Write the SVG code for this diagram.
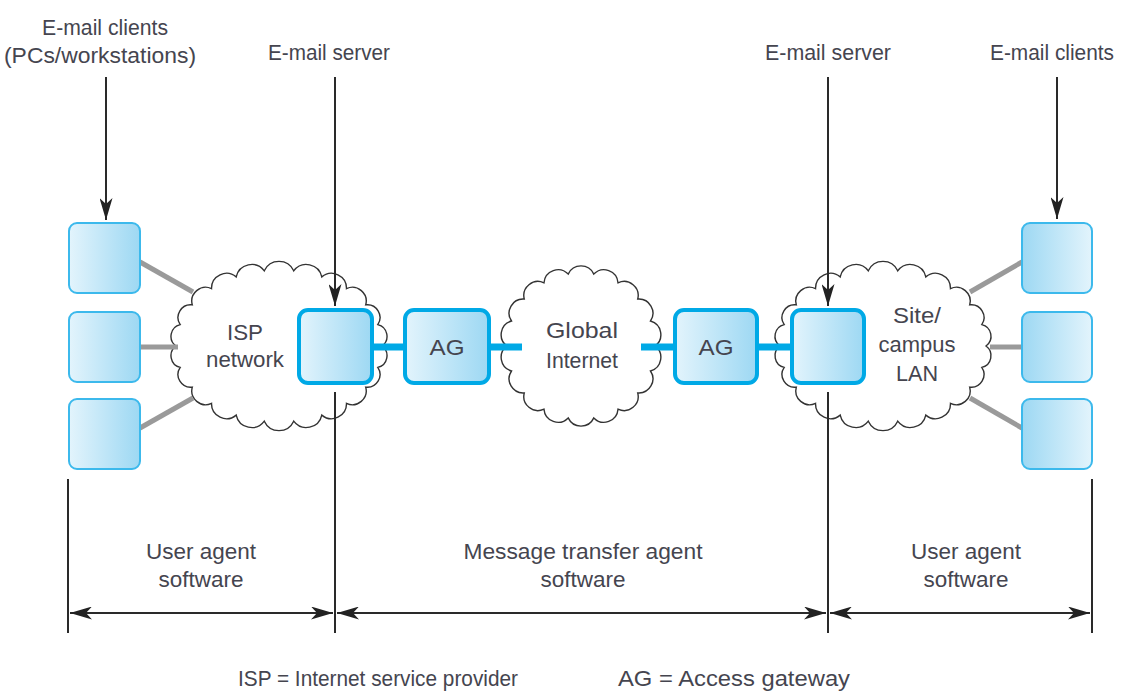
<svg xmlns="http://www.w3.org/2000/svg" xmlns:xlink="http://www.w3.org/1999/xlink" width="1121" height="692" viewBox="0 0 1121 692">
<style>
  text { font-family: "Liberation Sans", Arial, sans-serif; font-size: 22px; fill: #45454f; text-anchor: middle; }
  .cloud { fill: #ffffff; stroke: #333333; stroke-width: 1.4; }
  .client { stroke: #3cb9ec; stroke-width: 2; }
  .server { stroke: #00a9e6; stroke-width: 4; }
  .blue { stroke: #00a9e6; stroke-width: 7; fill: none; }
  .gray { stroke: #9a9a9a; stroke-width: 5; fill: none; }
  .conn { stroke: #2a2a2a; stroke-width: 2; fill: none; }
  .dim { stroke: #2a2a2a; stroke-width: 2; fill: none; marker-start: url(#ah); marker-end: url(#ah); }
  .arr { stroke: #2a2a2a; stroke-width: 2; fill: none; marker-end: url(#ah); }
</style>
<defs>
  <linearGradient id="gL" x1="0" y1="0" x2="1" y2="0">
    <stop offset="0" stop-color="#e3f4fc"/>
    <stop offset="1" stop-color="#9dd8f3"/>
  </linearGradient>
  <linearGradient id="gR" x1="0" y1="0" x2="1" y2="0">
    <stop offset="0" stop-color="#9dd8f3"/>
    <stop offset="1" stop-color="#e3f4fc"/>
  </linearGradient>
  <marker id="ah" viewBox="0 0 22 13" refX="22" refY="6.5" markerWidth="22" markerHeight="13" markerUnits="userSpaceOnUse" orient="auto-start-reverse">
    <path d="M0,0 L22,6.5 L0,13 L6,6.5 Z" fill="#222222"/>
  </marker>
  <path id="cloudWide" d="M103,0 A12,12 0 0 1 98.8,21.4 A12.7,12.7 0 0 1 86.7,41.1 A13.9,13.9 0 0 1 67.5,57.4 A15,15 0 0 1 42.8,69.1 A15.8,15.8 0 0 1 14.7,75.2 A16.2,16.2 0 0 1 -14.7,75.2 A15.8,15.8 0 0 1 -42.8,69.1 A15,15 0 0 1 -67.5,57.4 A13.9,13.9 0 0 1 -86.7,41.1 A12.7,12.7 0 0 1 -98.8,21.4 A12,12 0 0 1 -103,0 A12,12 0 0 1 -98.8,-21.4 A12.7,12.7 0 0 1 -86.7,-41.1 A13.9,13.9 0 0 1 -67.5,-57.4 A15,15 0 0 1 -42.8,-69.1 A15.8,15.8 0 0 1 -14.7,-75.2 A16.2,16.2 0 0 1 14.7,-75.2 A15.8,15.8 0 0 1 42.8,-69.1 A15,15 0 0 1 67.5,-57.4 A13.9,13.9 0 0 1 86.7,-41.1 A12.7,12.7 0 0 1 98.8,-21.4 A12,12 0 0 1 103,0 Z"/>
  <path id="cloudRound" d="M74,0 A14.1,14.1 0 0 1 69.5,25 A14.1,14.1 0 0 1 56.7,46.9 A14.1,14.1 0 0 1 37,63.2 A14.1,14.1 0 0 1 12.8,71.9 A14.1,14.1 0 0 1 -12.8,71.9 A14.1,14.1 0 0 1 -37,63.2 A14.1,14.1 0 0 1 -56.7,46.9 A14.1,14.1 0 0 1 -69.5,25 A14.1,14.1 0 0 1 -74,0 A14.1,14.1 0 0 1 -69.5,-25 A14.1,14.1 0 0 1 -56.7,-46.9 A14.1,14.1 0 0 1 -37,-63.2 A14.1,14.1 0 0 1 -12.8,-71.9 A14.1,14.1 0 0 1 12.8,-71.9 A14.1,14.1 0 0 1 37,-63.2 A14.1,14.1 0 0 1 56.7,-46.9 A14.1,14.1 0 0 1 69.5,-25 A14.1,14.1 0 0 1 74,0 Z"/>
</defs>
<rect width="1121" height="692" fill="#ffffff"/>

<!-- clouds -->
<g id="isp-network">
  <use xlink:href="#cloudWide" href="#cloudWide" class="cloud" transform="translate(279,346)"/>
  <text x="245" y="340" textLength="36" lengthAdjust="spacingAndGlyphs">ISP</text>
  <text x="245" y="367" textLength="78" lengthAdjust="spacingAndGlyphs">network</text>
</g>
<g id="global-internet">
  <use xlink:href="#cloudRound" href="#cloudRound" class="cloud" transform="translate(581,346)"/>
  <text x="582" y="338" textLength="72" lengthAdjust="spacingAndGlyphs">Global</text>
  <text x="582" y="368" textLength="72" lengthAdjust="spacingAndGlyphs">Internet</text>
</g>
<g id="site-campus-lan">
  <use xlink:href="#cloudWide" href="#cloudWide" class="cloud" transform="translate(883,346)"/>
  <text x="917" y="323" textLength="48" lengthAdjust="spacingAndGlyphs">Site/</text>
  <text x="917" y="352" textLength="77" lengthAdjust="spacingAndGlyphs">campus</text>
  <text x="917" y="381" textLength="42" lengthAdjust="spacingAndGlyphs">LAN</text>
</g>

<!-- connectors -->
<g id="connectors">
  <line class="gray" x1="140" y1="262" x2="193" y2="292"/>
  <line class="gray" x1="140" y1="347" x2="178" y2="347"/>
  <line class="gray" x1="140" y1="428" x2="193" y2="398"/>
  <line class="gray" x1="1022" y1="262" x2="970" y2="292"/>
  <line class="gray" x1="1022" y1="347" x2="990" y2="347"/>
  <line class="gray" x1="1022" y1="428" x2="970" y2="398"/>
  <line class="blue" x1="372" y1="347" x2="522" y2="347"/>
  <line class="blue" x1="641" y1="347" x2="792" y2="347"/>
  <line class="arr" x1="106" y1="77" x2="106" y2="220"/>
  <line class="arr" x1="335" y1="77" x2="335" y2="306"/>
  <line class="arr" x1="828" y1="77" x2="828" y2="306"/>
  <line class="arr" x1="1057" y1="77" x2="1057" y2="219"/>
  <line class="conn" x1="68" y1="479" x2="68" y2="633"/>
  <line class="conn" x1="335" y1="392" x2="335" y2="633"/>
  <line class="conn" x1="828" y1="392" x2="828" y2="633"/>
  <line class="conn" x1="1092" y1="479" x2="1092" y2="633"/>
  <line class="dim" x1="70" y1="613" x2="333" y2="613"/>
  <line class="dim" x1="337" y1="613" x2="826" y2="613"/>
  <line class="dim" x1="830" y1="613" x2="1090" y2="613"/>
</g>

<!-- left clients -->
<g id="client-left-1"><rect class="client" x="69" y="223" width="71" height="70" rx="8" fill="url(#gL)"/></g>
<g id="client-left-2"><rect class="client" x="69" y="312" width="71" height="70" rx="8" fill="url(#gL)"/></g>
<g id="client-left-3"><rect class="client" x="69" y="399" width="71" height="70" rx="8" fill="url(#gL)"/></g>

<!-- servers and gateways -->
<g id="server-left"><rect class="server" x="299" y="310" width="73" height="73" rx="9" fill="url(#gL)"/></g>
<g id="ag-left">
  <rect class="server" x="405" y="310" width="84" height="73" rx="9" fill="url(#gL)"/>
  <text x="447" y="355" textLength="35" lengthAdjust="spacingAndGlyphs">AG</text>
</g>
<g id="ag-right">
  <rect class="server" x="675" y="310" width="82" height="73" rx="9" fill="url(#gL)"/>
  <text x="716" y="355" textLength="35" lengthAdjust="spacingAndGlyphs">AG</text>
</g>
<g id="server-right"><rect class="server" x="792" y="310" width="72" height="73" rx="9" fill="url(#gL)"/></g>

<!-- right clients -->
<g id="client-right-1"><rect class="client" x="1022" y="223" width="70" height="70" rx="8" fill="url(#gR)"/></g>
<g id="client-right-2"><rect class="client" x="1022" y="312" width="70" height="70" rx="8" fill="url(#gR)"/></g>
<g id="client-right-3"><rect class="client" x="1022" y="399" width="70" height="70" rx="8" fill="url(#gR)"/></g>

<!-- labels -->
<g id="labels">
  <text x="105" y="35" textLength="126" lengthAdjust="spacingAndGlyphs">E-mail clients</text>
  <text x="100" y="63" textLength="192" lengthAdjust="spacingAndGlyphs">(PCs/workstations)</text>
  <text x="329" y="60" textLength="122" lengthAdjust="spacingAndGlyphs">E-mail server</text>
  <text x="828" y="60" textLength="126" lengthAdjust="spacingAndGlyphs">E-mail server</text>
  <text x="1052" y="60" textLength="124" lengthAdjust="spacingAndGlyphs">E-mail clients</text>
  <text x="201" y="559" textLength="110" lengthAdjust="spacingAndGlyphs">User agent</text>
  <text x="201" y="587" textLength="85" lengthAdjust="spacingAndGlyphs">software</text>
  <text x="583" y="559" textLength="239" lengthAdjust="spacingAndGlyphs">Message transfer agent</text>
  <text x="583" y="587" textLength="85" lengthAdjust="spacingAndGlyphs">software</text>
  <text x="966" y="559" textLength="110" lengthAdjust="spacingAndGlyphs">User agent</text>
  <text x="966" y="587" textLength="85" lengthAdjust="spacingAndGlyphs">software</text>
  <text x="378" y="686" textLength="280" lengthAdjust="spacingAndGlyphs">ISP = Internet service provider</text>
  <text x="734" y="686" textLength="232" lengthAdjust="spacingAndGlyphs">AG = Access gateway</text>
</g>
</svg>
